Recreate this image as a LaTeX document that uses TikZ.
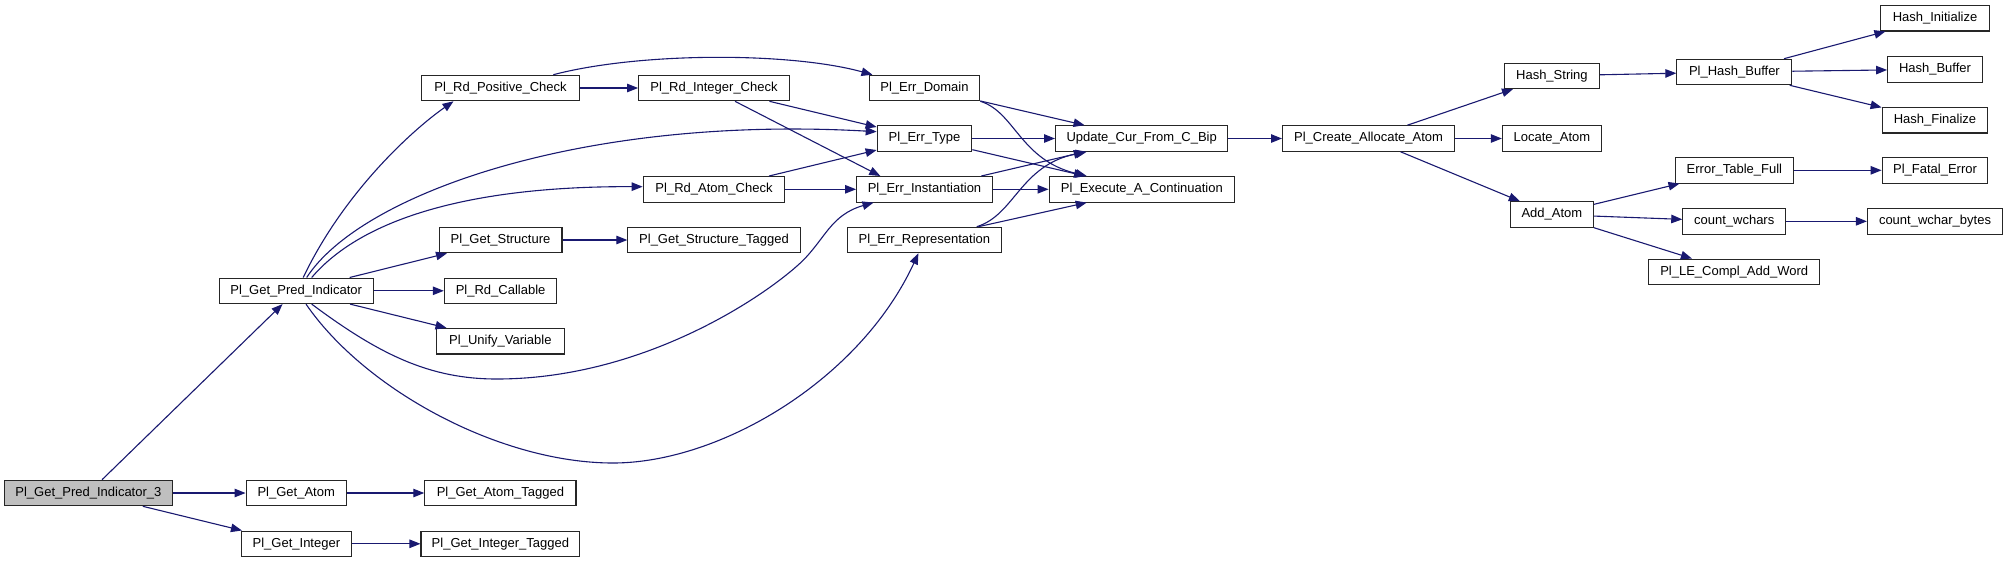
\documentclass[tikz,border=0pt]{standalone}
\usepackage{fontspec}
\setmainfont{Liberation Sans}
\usetikzlibrary{arrows.meta}
\definecolor{edgec}{RGB}{25,25,112}
\definecolor{rootfill}{RGB}{191,191,191}
\begin{document}
\begin{tikzpicture}[x=1pt,y=-1pt,
  fn/.style={draw=black!85, line width=1.1pt, minimum height=25.5pt, inner sep=0pt,
    font=\fontsize{13}{15}\selectfont, fill=white},
  e/.style={draw=edgec, line width=1.1pt, -{Triangle[length=11pt,width=8.5pt]}},
]
\useasboundingbox (0,0) rectangle (2008,563);
% nodes
\node[fn, minimum width=167.6pt, fill=rootfill] (p3) at (88.4,493) {Pl\_Get\_Pred\_Indicator\_3};
\node[fn, minimum width=100.2pt] (gatom) at (296.2,493) {Pl\_Get\_Atom};
\node[fn, minimum width=151.2pt] (gatomt) at (500.4,493) {Pl\_Get\_Atom\_Tagged};
\node[fn, minimum width=109.8pt] (gint) at (296.4,543.8) {Pl\_Get\_Integer};
\node[fn, minimum width=158.8pt] (ginttag) at (500.4,543.8) {Pl\_Get\_Integer\_Tagged};
\node[fn, minimum width=154.3pt] (gpi) at (296.2,290.8) {Pl\_Get\_Pred\_Indicator};
\node[fn, minimum width=157.3pt] (rdpos) at (500.5,88) {Pl\_Rd\_Positive\_Check};
\node[fn, minimum width=150.8pt] (rdint) at (714,88) {Pl\_Rd\_Integer\_Check};
\node[fn, minimum width=110.6pt] (edom) at (924.5,88) {Pl\_Err\_Domain};
\node[fn, minimum width=94.6pt] (etype) at (924.5,138.5) {Pl\_Err\_Type};
\node[fn, minimum width=141.6pt] (rdatom) at (714,189.3) {Pl\_Rd\_Atom\_Check};
\node[fn, minimum width=135.8pt] (einst) at (924.5,189.3) {Pl\_Err\_Instantiation};
\node[fn, minimum width=122.9pt] (gstruct) at (500.5,240) {Pl\_Get\_Structure};
\node[fn, minimum width=172.3pt] (gstructt) at (714,240) {Pl\_Get\_Structure\_Tagged};
\node[fn, minimum width=153.5pt] (erep) at (924.4,240) {Pl\_Err\_Representation};
\node[fn, minimum width=112.5pt] (rdcall) at (500.6,290.8) {Pl\_Rd\_Callable};
\node[fn, minimum width=127.5pt] (unify) at (500.4,341.2) {Pl\_Unify\_Variable};
\node[fn, minimum width=172.3pt] (upd) at (1141.7,138.5) {Update\_Cur\_From\_C\_Bip};
\node[fn, minimum width=185.6pt] (exec) at (1141.9,189.3) {Pl\_Execute\_A\_Continuation};
\node[fn, minimum width=171.9pt] (cre) at (1368.5,138.5) {Pl\_Create\_Allocate\_Atom};
\node[fn, minimum width=94.9pt] (hstr) at (1551.9,75.8) {Hash\_String};
\node[fn, minimum width=99.1pt] (loc) at (1551.9,138.5) {Locate\_Atom};
\node[fn, minimum width=83.1pt] (add) at (1551.9,214.5) {Add\_Atom};
\node[fn, minimum width=115pt] (hbuf) at (1734.4,72) {Pl\_Hash\_Buffer};
\node[fn, minimum width=108.3pt] (hinit) at (1935,18.2) {Hash\_Initialize};
\node[fn, minimum width=94.8pt] (hbuffer) at (1935,69.3) {Hash\_Buffer};
\node[fn, minimum width=105.7pt] (hfin) at (1935,120.2) {Hash\_Finalize};
\node[fn, minimum width=117.5pt] (etf) at (1734.4,170.3) {Error\_Table\_Full};
\node[fn, minimum width=105.7pt] (fatal) at (1935,170.3) {Pl\_Fatal\_Error};
\node[fn, minimum width=102.8pt] (cwc) at (1734.2,221.3) {count\_wchars};
\node[fn, minimum width=135.1pt] (cwb) at (1935,221.3) {count\_wchar\_bytes};
\node[fn, minimum width=170.8pt] (lec) at (1734.2,271.8) {Pl\_LE\_Compl\_Add\_Word};
% edges
\draw[e] (p3) -- (gpi);
\draw[e] (p3) -- (gatom);
\draw[e] (p3) -- (gint);
\draw[e] (gatom) -- (gatomt);
\draw[e] (gint) -- (ginttag);
\draw[e] ([xshift=7pt]gpi.north) .. controls (345,190) and (415,128) .. ([xshift=-47pt]rdpos.south);
\draw[e] ([xshift=10.5pt]gpi.north) .. controls (360,195) and (580,115) .. ([yshift=6.8pt]etype.west);
\draw[e] ([xshift=15.5pt]gpi.north) .. controls (365,215) and (480,186) .. ([yshift=2.6pt]rdatom.west);
\draw[e] (gpi) -- (gstruct);
\draw[e] (gpi) -- (rdcall);
\draw[e] (gpi) -- (unify);
\draw[e] ([xshift=15.5pt]gpi.south) .. controls (380,355) and (430,379) .. (496.7,379)
   .. controls (640,379) and (760,300) .. (800,263.3)
   .. controls (825,240) and (830,215) .. ([xshift=-51pt]einst.south);
\draw[e] ([xshift=9.8pt]gpi.south) .. controls (365,390) and (500,463) .. (613,463)
   .. controls (720,463) and (860,380) .. ([xshift=-6pt]erep.south);
\draw[e] (rdpos) -- (rdint);
\draw[e] ([xshift=52.8pt]rdpos.north) .. controls (640,52) and (790,52) .. ([xshift=-52pt]edom.north);
\draw[e] (rdint) -- (etype);
\draw[e] ([xshift=21pt]rdint.south) -- ([xshift=-44.2pt]einst.north);
\draw[e] (rdatom) -- (etype);
\draw[e] (rdatom) -- (einst);
\draw[e] (gstruct) -- (gstructt);
\draw[e] (edom) -- (upd);
\draw[e] (edom.south east) .. controls (1015,112) and (1020,160) .. ([xshift=-55.2pt]exec.north);
\draw[e] (etype) -- (upd);
\draw[e] (etype) -- (exec);
\draw[e] (einst) -- (upd);
\draw[e] (einst) -- (exec);
\draw[e] ([xshift=52.3pt]erep.north) .. controls (1015,215) and (1020,165) .. ([xshift=-55pt]upd.south);
\draw[e] ([xshift=54pt]erep.north) -- ([xshift=-55.2pt]exec.south);
\draw[e] (upd) -- (cre);
\draw[e] (cre) -- (hstr);
\draw[e] (cre) -- (loc);
\draw[e] (cre) -- (add);
\draw[e] (hstr) -- (hbuf);
\draw[e] (hbuf) -- (hinit);
\draw[e] (hbuf) -- (hbuffer);
\draw[e] (hbuf) -- (hfin);
\draw[e] (add) -- (etf);
\draw[e] (add) -- (cwc);
\draw[e] (add) -- (lec);
\draw[e] (etf) -- (fatal);
\draw[e] (cwc) -- (cwb);
\end{tikzpicture}
\end{document}
